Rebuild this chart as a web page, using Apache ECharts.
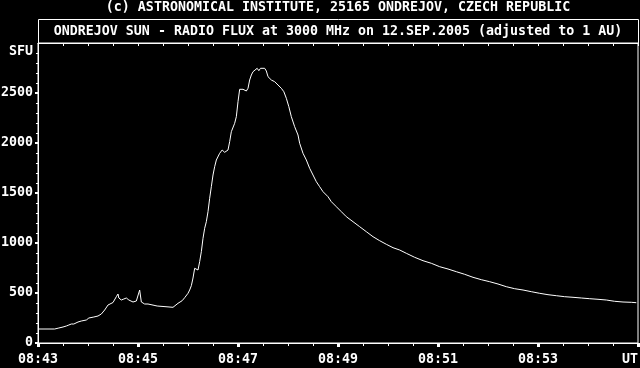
<!DOCTYPE html>
<html><head><meta charset="utf-8">
<script src="https://cdn.jsdelivr.net/npm/echarts@6/dist/echarts.min.js"></script>
<style>html,body{margin:0;padding:0;background:#000}#c{width:640px;height:368px}</style>
</head><body><div id="c"></div>
<script>
// Seconds after 08:43:00 UT
const timeSec = [0,20,22,25,26,30,31,34,35,37,38,40,43,44,48,49,52,53,58,59,61,62,67,68,72,73,76,78,80,82,84,86,90,92,94,96,97,100,103,106,109,114,118,120,122,124,126,128,132,134,143,144,162,164,168,173,176,180,182,184,186,188,190,192,194,196,198,200,202,204,206,208,210,212,214,218,221,224,228,230,232,236,238,240,242,246,250,252,254,256,258,260,263,265,267,269,272,274,276,280,284,286,288,292,295,298,301,304,308,312,314,318,322,326,330,334,338,342,348,352,358,364,370,378,386,394,402,410,418,426,434,442,452,462,472,482,492,502,512,522,532,542,552,562,572,582,592,602,612,622,632,642,652,662,672,682,692,702,712,718];
// Radio flux at 3000 MHz, SFU
const fluxSFU = [140,140,150,150,160,160,170,170,180,180,170,190,190,210,210,220,220,230,230,250,250,260,260,270,270,280,290,310,330,350,380,400,405,420,463,490,450,430,440,450,430,410,420,410,530,410,395,390,390,370,370,360,357,373,397,423,453,497,530,573,650,747,763,730,813,913,1047,1147,1213,1313,1447,1563,1680,1763,1830,1897,1930,1907,1930,2013,2113,2197,2263,2413,2537,2537,2520,2547,2630,2680,2713,2730,2747,2723,2747,2763,2747,2720,2663,2630,2613,2613,2580,2547,2513,2447,2363,2263,2163,2080,1997,1897,1830,1747,1680,1613,1563,1513,1463,1413,1363,1313,1263,1213,1163,1113,1063,1023,987,953,930,897,857,823,797,763,740,713,687,657,633,613,590,563,543,530,513,497,483,473,463,457,450,443,437,430,417,410,407,403];
const xTickLabels = ['08:43','08:45','08:47','08:49','08:51','08:53','UT'];
const yTickValues = [0,500,1000,1500,2000,2500];
const yUnit = 'SFU';
const titleTop = '(c) ASTRONOMICAL INSTITUTE, 25165 ONDREJOV, CZECH REPUBLIC';
const titleMain = 'ONDREJOV SUN - RADIO FLUX at 3000 MHz on 12.SEP.2005 (adjusted to 1 AU)';

const FONT = '"DejaVu Sans Mono", "Liberation Mono", monospace';
const FS = 13.3;
const chart = echarts.init(document.getElementById('c'), null, {renderer: 'canvas'});
const pts = timeSec.map((t, i) => [t, fluxSFU[i]]);
chart.setOption({
  backgroundColor: '#000',
  animation: false,
  grid: {left: 38, right: 2, top: 43, bottom: 25, show: true, borderColor: '#fff', borderWidth: 1,
    containLabel: false, outerBoundsMode: 'none'},
  graphic: [
    {type: 'rect', shape: {x: 38.5, y: 19.5, width: 600, height: 24}, style: {fill: null, stroke: '#fff', lineWidth: 1}, silent: true},
    {type: 'text', x: 338, y: 8, style: {text: titleTop, fill: '#fff', font: 'bold ' + FS + 'px ' + FONT, textAlign: 'center', textVerticalAlign: 'middle'}},
    {type: 'text', x: 338, y: 31.5, style: {text: titleMain, fill: '#fff', font: 'bold ' + FS + 'px ' + FONT, textAlign: 'center', textVerticalAlign: 'middle'}},
    {type: 'text', x: 33, y: 52, style: {text: yUnit, fill: '#fff', font: 'bold ' + FS + 'px ' + FONT, textAlign: 'right', textVerticalAlign: 'middle'}}
  ],
  xAxis: [{
    type: 'value', min: 0, max: 720, interval: 120, position: 'bottom',
    axisLine: {show: true, lineStyle: {color: '#fff', width: 1}},
    axisTick: {show: true, length: 4, lineStyle: {color: '#fff', width: 3}},
    minorTick: {show: true, splitNumber: 4, length: 3, lineStyle: {color: '#fff', width: 1}},
    splitLine: {show: false},
    axisLabel: {color: '#fff', fontFamily: FONT, fontWeight: 'bold', fontSize: FS, margin: 10,
      alignMaxLabel: 'right',
      formatter: v => xTickLabels[Math.round(v / 120)] || ''}
  }, {
    type: 'value', min: 0, max: 720, interval: 30, position: 'top',
    axisLine: {show: true, lineStyle: {color: '#fff', width: 1}},
    axisTick: {show: true, inside: true, length: 3, lineStyle: {color: '#fff', width: 1}},
    axisLabel: {show: false}, splitLine: {show: false}
  }],
  yAxis: {
    type: 'value', min: 0, max: 3000, interval: 500,
    axisLine: {show: true, lineStyle: {color: '#fff', width: 1}},
    axisTick: {show: true, length: 3, customValues: yTickValues, lineStyle: {color: '#fff', width: 2}},
    minorTick: {show: true, splitNumber: 5, length: 2, lineStyle: {color: '#fff', width: 1}},
    splitLine: {show: false},
    axisLabel: {color: '#fff', fontFamily: FONT, fontWeight: 'bold', fontSize: FS, margin: 5,
      customValues: yTickValues, formatter: v => String(v)}
  },
  series: [{
    type: 'line', data: pts, showSymbol: false, xAxisIndex: 0,
    lineStyle: {color: '#fff', width: 1}, silent: true
  }]
});
</script></body></html>
